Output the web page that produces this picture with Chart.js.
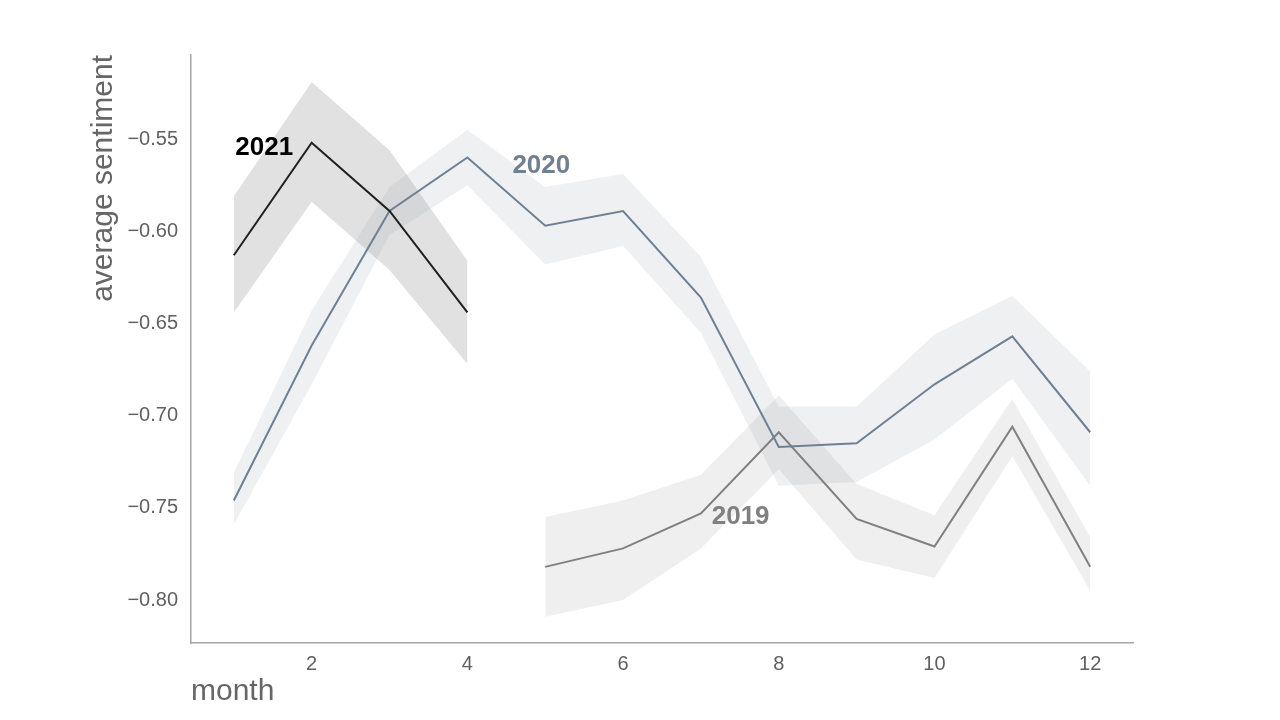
<!DOCTYPE html>
<html>
<head>
<meta charset="utf-8">
<script src="https://cdn.jsdelivr.net/npm/chart.js@4/dist/chart.umd.min.js"></script>
<style>
  html, body { margin: 0; padding: 0; background: #fff; }
  canvas { display: block; }
</style>
</head>
<body>
<canvas id="chart" width="1280" height="720"></canvas>
<script>
// months covered by each year
const months2021 = [1, 2, 3, 4];
const months2020 = [1, 2, 3, 4, 5, 6, 7, 8, 9, 10, 11, 12];
const months2019 = [5, 6, 7, 8, 9, 10, 11, 12];

// mean sentiment + confidence band (upper / lower)
const mean2021 = [-0.613, -0.552, -0.589, -0.644];
const upper2021 = [-0.581, -0.519, -0.556, -0.616];
const lower2021 = [-0.644, -0.584, -0.621, -0.672];

const mean2020 = [-0.746, -0.662, -0.589, -0.560, -0.597, -0.589, -0.636, -0.717, -0.715, -0.683, -0.657, -0.709];
const upper2020 = [-0.731, -0.643, -0.576, -0.545, -0.576, -0.569, -0.614, -0.695, -0.695, -0.656, -0.635, -0.676];
const lower2020 = [-0.759, -0.683, -0.602, -0.575, -0.618, -0.608, -0.655, -0.738, -0.736, -0.713, -0.680, -0.738];

const mean2019 = [-0.782, -0.772, -0.753, -0.709, -0.756, -0.771, -0.706, -0.782];
const upper2019 = [-0.755, -0.746, -0.732, -0.689, -0.737, -0.754, -0.691, -0.766];
const lower2019 = [-0.809, -0.800, -0.772, -0.729, -0.778, -0.788, -0.722, -0.795];

const xTicks = [2, 4, 6, 8, 10, 12];
const yTicks = [-0.80, -0.75, -0.70, -0.65, -0.60, -0.55];

const yearNames = ['2021', '2020', '2019'];
// where each year's name sits, in data units (month, sentiment)
const nameAt = [[1.39, -0.555], [4.95, -0.5646], [7.51, -0.755]];
const nameColors = ['#000000', '#708090', '#808080'];

const pts = (xs, ys) => xs.map((x, i) => ({ x: x, y: ys[i] }));

// one year = upper edge, lower edge filled to upper, and the mean line
function yearSets(xs, mean, up, low, lineColor, bandColor) {
    return [
        { data: pts(xs, up), borderWidth: 0, pointRadius: 0, fill: false, borderColor: 'transparent' },
        { data: pts(xs, low), borderWidth: 0, pointRadius: 0, fill: '-1', borderColor: 'transparent', backgroundColor: bandColor },
        { data: pts(xs, mean), borderWidth: 2, pointRadius: 0, fill: false, borderColor: lineColor }
    ];
}

const yearLabels = {
    id: 'yearLabels',
    afterDatasetsDraw(chart) {
        const { ctx, scales } = chart;
        ctx.save();
        ctx.font = 'bold 26px "Liberation Sans", Arial, sans-serif';
        ctx.textAlign = 'center';
        ctx.textBaseline = 'middle';
        yearNames.forEach((name, i) => {
            ctx.fillStyle = nameColors[i];
            ctx.fillText(name, scales.x.getPixelForValue(nameAt[i][0]), scales.y.getPixelForValue(nameAt[i][1]));
        });
        ctx.restore();
    }
};

new Chart(document.getElementById('chart'), {
    type: 'line',
    data: {
        datasets: [
            ...yearSets(months2021, mean2021, upper2021, lower2021, '#000000', 'rgba(128,128,128,0.24)'),
            ...yearSets(months2020, mean2020, upper2020, lower2020, '#708090', 'rgba(112,128,144,0.12)'),
            ...yearSets(months2019, mean2019, upper2019, lower2019, '#808080', 'rgba(128,128,128,0.13)')
        ]
    },
    options: {
        responsive: false,
        animation: false,
        layout: { padding: { top: 55, right: 147, left: 0, bottom: 0 } },
        plugins: { legend: { display: false }, tooltip: { enabled: false } },
        elements: { line: { tension: 0 } },
        scales: {
            x: {
                type: 'linear',
                min: 0.45,
                max: 12.55,
                grid: { display: false, drawTicks: false },
                border: { display: true, color: '#a6a6a6', width: 1.5 },
                afterBuildTicks: s => { s.ticks = xTicks.map(v => ({ value: v })); },
                afterFit: s => { s.height = 77; },
                ticks: {
                    padding: 9,
                    color: '#606060',
                    font: { family: '"Liberation Sans", Arial, sans-serif', size: 20 }
                },
                title: {
                    display: true,
                    text: 'month',
                    align: 'start',
                    color: '#666666',
                    padding: { top: 0, bottom: 10 },
                    font: { family: '"Liberation Sans", Arial, sans-serif', size: 30 }
                }
            },
            y: {
                min: -0.8233,
                max: -0.5044,
                grid: { display: false, drawTicks: false },
                border: { display: true, color: '#a6a6a6', width: 1.5 },
                afterBuildTicks: s => { s.ticks = yTicks.map(v => ({ value: v })); },
                afterFit: s => { s.width = 191; },
                ticks: {
                    padding: 13,
                    color: '#606060',
                    font: { family: '"Liberation Sans", Arial, sans-serif', size: 20 },
                    callback: v => '\u2212' + Math.abs(v).toFixed(2)
                },
                title: {
                    display: true,
                    text: 'average sentiment',
                    align: 'end',
                    color: '#666666',
                    padding: { top: 86, bottom: 0 },
                    font: { family: '"Liberation Sans", Arial, sans-serif', size: 30 }
                }
            }
        }
    },
    plugins: [yearLabels]
});
</script>
</body>
</html>
